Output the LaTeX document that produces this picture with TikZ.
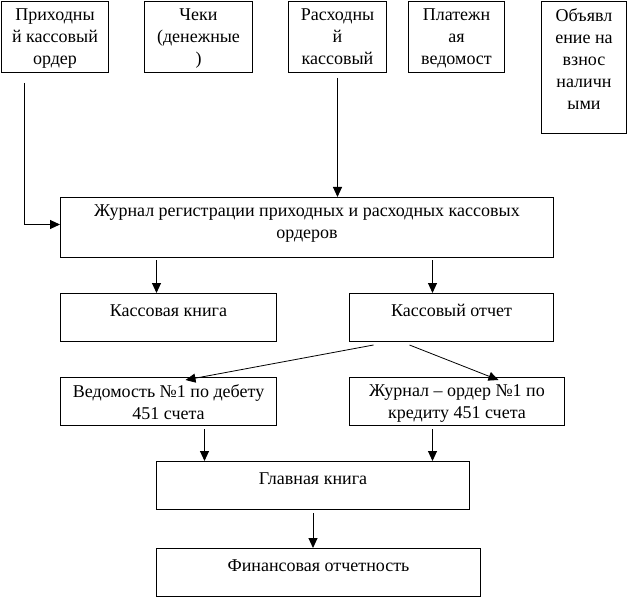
\documentclass[tikz,border=0pt]{standalone}
\usepackage{fontspec}
\setmainfont{Liberation Serif}
\usetikzlibrary{arrows.meta, positioning}

\begin{document}
\begin{tikzpicture}[
  x=1pt, y=-1pt,
  box/.style={draw,line width=1pt,anchor=north west,inner sep=0pt,
    minimum width=#1},
  txt/.style={font=\fontsize{18}{22}\selectfont,align=center,inner sep=0pt,
    execute at begin node=\strut},
  arr/.style={-{Triangle[length=10pt,width=9pt]},line width=1pt},
  darr/.style={-{Triangle[length=10pt,width=9pt]},line width=0.8pt},
  node distance=7.5pt,
]
\useasboundingbox (0,0) rectangle (627,599);

% Source documents
\node[box=107pt, minimum height=71pt] (prihod) at (1,1) {};
\node[box=108pt, minimum height=71pt] (cheki) at (144,1) {};
\node[box=98pt, minimum height=71pt] (rashod) at (288,1) {};
\node[box=96pt, minimum height=71pt] (platezh) at (408,1) {};
\node[box=85pt, minimum height=132pt] (obyavl) at (541,1) {};

\node[txt, below=of prihod.north] (prihodT) {Приходны\\й кассовый\\ордер};
\node[txt, below=of cheki.north] (chekiT) {Чеки\\(денежные\\)};
\node[txt, below=of rashod.north] (rashodT) {Расходны\\й\\кассовый};
\node[txt, below=of platezh.north] (platezhT) {Платежн\\ая\\ведомост};
\node[txt, below=of obyavl.north] (obyavlT) {Объявл\\ение на\\взнос\\наличн\\ыми};

% Register
\node[box=493pt, minimum height=60pt] (zhurnal) at (60,197) {};
\node[txt, below=of zhurnal.north] (zhurnalT)
  {Журнал регистрации приходных и расходных кассовых\\ордеров};

% Cash book and report
\node[box=216pt, minimum height=48pt] (kniga) at (60,293) {};
\node[box=204pt, minimum height=48pt] (otchet) at (349,293) {};
\node[txt, below=of kniga.north] (knigaT) {Кассовая книга};
\node[txt, below=of otchet.north] (otchetT) {Кассовый отчет};

% Statements
\node[box=216pt, minimum height=48pt] (vedom) at (60,377) {};
\node[box=215pt, minimum height=48pt] (zhord) at (349,377) {};
\node[txt, below=of vedom.north] (vedomT) {Ведомость №1 по дебету\\451 счета};
\node[txt, below=of zhord.north] (zhordT) {Журнал – ордер №1 по\\кредиту 451 счета};

% Ledger and reporting
\node[box=313pt, minimum height=48pt] (glavn) at (156,461) {};
\node[box=324pt, minimum height=48pt] (finans) at (156,548) {};
\node[txt, below=of glavn.north] (glavnT) {Главная книга};
\node[txt, below=of finans.north] (finansT) {Финансовая отчетность};

% Arrows
\draw[arr] ([xshift=-30.5pt,yshift=-10pt]prihod.south) |- ([yshift=3pt]zhurnal.west);
\draw[arr] ([yshift=-5pt]rashod.south) -- (rashod.south |- zhurnal.north);

\draw[arr] ([xshift=-12pt,yshift=33pt]kniga.north) -- ([xshift=-12pt]kniga.north);
\draw[arr] ([xshift=-19pt,yshift=33pt]otchet.north) -- ([xshift=-19pt]otchet.north);

\draw[darr] ([xshift=-78pt,yshift=-3pt]otchet.south) -- ([xshift=17pt,yshift=-3pt]vedom.north);
\draw[darr] ([xshift=-42pt,yshift=-3pt]otchet.south) -- ([xshift=41.5pt,yshift=-3pt]zhord.north);

\draw[arr] ([xshift=36pt,yshift=-3pt]vedom.south) -- ([xshift=-108.5pt]glavn.north);
\draw[arr] ([xshift=-24.5pt,yshift=-3pt]zhord.south) -- ([xshift=119.5pt]glavn.north);

\draw[arr] ([yshift=-3pt]glavn.south) -- (glavn.south |- finans.north);

\end{tikzpicture}
\end{document}
